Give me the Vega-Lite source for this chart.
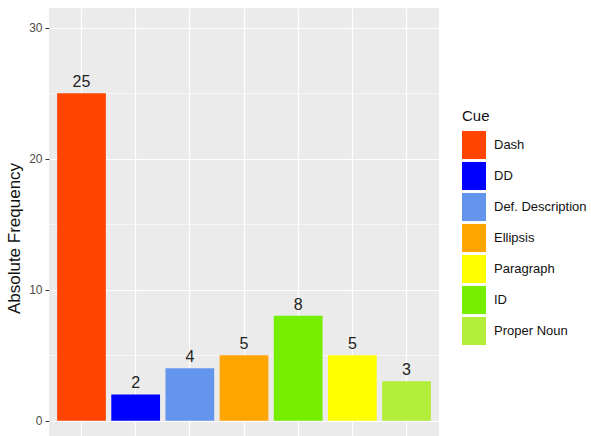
{
  "$schema": "https://vega.github.io/schema/vega-lite/v6.json",
  "width": 390,
  "height": 428,
  "autosize": "none",
  "padding": {"left": 49, "top": 8, "right": 152, "bottom": 0},
  "background": "white",
  "config": {
    "view": {"fill": "#EBEBEB", "stroke": null},
    "font": "Liberation Sans"
  },
  "data": {
    "values": [
      {"cue": "Dash", "freq": 25},
      {"cue": "DD", "freq": 2},
      {"cue": "Def. Description", "freq": 4},
      {"cue": "Ellipsis", "freq": 5},
      {"cue": "ID", "freq": 8},
      {"cue": "Paragraph", "freq": 5},
      {"cue": "Proper Noun", "freq": 3}
    ]
  },
  "encoding": {
    "x": {
      "field": "cue",
      "type": "nominal",
      "sort": ["Dash", "DD", "Def. Description", "Ellipsis", "ID", "Paragraph", "Proper Noun"],
      "scale": {"paddingInner": 0.1, "paddingOuter": 0.15},
      "axis": {
        "title": null, "labels": false, "ticks": false, "domain": false,
        "grid": true, "gridColor": "white", "gridWidth": 1.2, "bandPosition": 0.5
      }
    },
    "y": {
      "field": "freq",
      "type": "quantitative",
      "scale": {"domain": [-1.17, 31.5], "nice": false, "zero": false},
      "axis": {
        "title": "Absolute Frequency",
        "titleFontSize": 17, "titleFontWeight": "normal", "titleColor": "#111",
        "titleAngle": -90, "titleX": -35, "titleY": 230,
        "titleAlign": "center", "titleBaseline": "middle",
        "values": [0, 5, 10, 15, 20, 25, 30],
        "labelExpr": "datum.value % 10 === 0 ? datum.label : ''",
        "labelFontSize": 12, "labelColor": "#4D4D4D", "labelPadding": 3,
        "tickSize": 4, "tickColor": "#333",
        "tickOpacity": {"condition": {"test": "datum.value % 10 === 0", "value": 1}, "value": 0},
        "domain": false,
        "grid": true, "gridColor": "white",
        "gridWidth": {"condition": {"test": "datum.value % 10 === 0", "value": 1.2}, "value": 0.6}
      }
    }
  },
  "layer": [
    {
      "mark": {"type": "bar"},
      "encoding": {
        "color": {
          "field": "cue",
          "type": "nominal",
          "scale": {
            "domain": ["Dash", "DD", "Def. Description", "Ellipsis", "Paragraph", "ID", "Proper Noun"],
            "range": ["#FF4500", "#0000FF", "#6495ED", "#FFA500", "#FFFF00", "#76EE00", "#B3EE3A"]
          },
          "legend": {
            "title": "Cue",
            "orient": "none",
            "legendX": 413,
            "legendY": 101,
            "titleFontSize": 15, "titleFontWeight": "normal", "titleColor": "#111",
            "titlePadding": 9,
            "symbolType": "M-1,-1.17H1V1.17H-1Z",
            "symbolSize": 576,
            "symbolStrokeWidth": 0,
            "symbolOpacity": 1,
            "labelFontSize": 13, "labelColor": "#111", "labelOffset": 8,
            "rowPadding": 1.0
          }
        }
      }
    },
    {
      "mark": {"type": "text", "baseline": "alphabetic", "dy": -6, "fontSize": 16, "color": "#222"},
      "encoding": {"text": {"field": "freq", "type": "quantitative"}}
    }
  ]
}
